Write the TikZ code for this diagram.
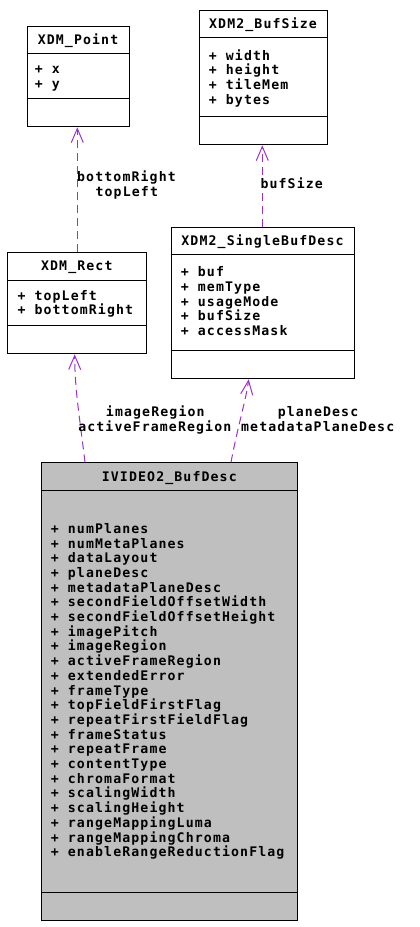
\documentclass[tikz,border=0pt]{standalone}
\usepackage{fontspec}
\newfontfamily\dxfont[LetterSpace=8.5]{DejaVu Sans Mono Bold}
\usetikzlibrary{arrows.meta}
\definecolor{edgepurple}{HTML}{9A32CD}
\definecolor{boxgray}{HTML}{BFBFBF}
\tikzset{
  classbox/.style={draw=black, line width=1pt, rectangle, inner sep=0pt, anchor=north west},
  sepline/.style={draw=black, line width=1pt},
  txt/.style={inner sep=0pt, anchor=base west, font=\dxfont\fontsize{13.2}{14.7}\selectfont},
  ttl/.style={inner sep=0pt, anchor=base, font=\dxfont\fontsize{13.2}{14.7}\selectfont},
  lbl/.style={inner sep=0pt, anchor=base, font=\dxfont\fontsize{13.2}{14.7}\selectfont},
  conn/.style={draw=edgepurple, line width=1pt, dash pattern=on 8pt off 5pt,
    -{Straight Barb[length=14pt, width=12pt, line width=1pt]}}
}
\begin{document}
\begin{tikzpicture}[x=1pt,y=-1pt]
\useasboundingbox[fill=white] (0,0) rectangle (420,927);

% XDM_Point
\node[classbox, fill=white, minimum width=102.6pt, minimum height=100.6pt] (point) at (26.7,25.7) {};
\draw[sepline] (point.west |- 0,53.3) -- (point.east |- 0,53.3);
\draw[sepline] (point.west |- 0,98.7) -- (point.east |- 0,98.7);
\node[ttl] (pointT) at (78,44.3) {XDM\_Point};
\node[txt] (pointM1) at (34.7,73.3) {+ x};
\node[txt] (pointM2) at (34.7,88) {+ y};

% XDM2_BufSize
\node[classbox, fill=white, minimum width=128.6pt, minimum height=134.6pt] (bufsize) at (198.7,9.7) {};
\draw[sepline] (bufsize.west |- 0,37.3) -- (bufsize.east |- 0,37.3);
\draw[sepline] (bufsize.west |- 0,116.7) -- (bufsize.east |- 0,116.7);
\node[ttl] (bufsizeT) at (263,28.3) {XDM2\_BufSize};
\foreach \t [count=\i from 0] in {width,height,tileMem,bytes}
  \node[txt] (bufsizeM\i) at (208.7,60+\i*14.7) {+ \t};

% XDM2_SingleBufDesc
\node[classbox, fill=white, minimum width=183.6pt, minimum height=151.6pt] (single) at (170.7,226.7) {};
\draw[sepline] (single.west |- 0,254.7) -- (single.east |- 0,254.7);
\draw[sepline] (single.west |- 0,350.3) -- (single.east |- 0,350.3);
\node[ttl] (singleT) at (262.5,245) {XDM2\_SingleBufDesc};
\foreach \t [count=\i from 0] in {buf,memType,usageMode,bufSize,accessMask}
  \node[txt] (singleM\i) at (180.7,276.7+\i*14.7) {+ \t};

% XDM_Rect
\node[classbox, fill=white, minimum width=139pt, minimum height=101pt] (rect) at (7.3,252.3) {};
\draw[sepline] (rect.west |- 0,280.7) -- (rect.east |- 0,280.7);
\draw[sepline] (rect.west |- 0,325.3) -- (rect.east |- 0,325.3);
\node[ttl] (rectT) at (76.8,270) {XDM\_Rect};
\node[txt] (rectM1) at (17.3,300) {+ topLeft};
\node[txt] (rectM2) at (17.3,314.7) {+ bottomRight};

% IVIDEO2_BufDesc
\node[classbox, fill=boxgray, minimum width=256pt, minimum height=457.7pt] (ivideo) at (41.3,462.3) {};
\draw[sepline] (ivideo.west |- 0,490) -- (ivideo.east |- 0,490);
\draw[sepline] (ivideo.west |- 0,892.7) -- (ivideo.east |- 0,892.7);
\node[ttl] (ivideoT) at (169.3,481) {IVIDEO2\_BufDesc};
\foreach \t [count=\i from 0] in {numPlanes,numMetaPlanes,dataLayout,planeDesc,metadataPlaneDesc,secondFieldOffsetWidth,secondFieldOffsetHeight,imagePitch,imageRegion,activeFrameRegion,extendedError,frameType,topFieldFirstFlag,repeatFirstFieldFlag,frameStatus,repeatFrame,contentType,chromaFormat,scalingWidth,scalingHeight,rangeMappingLuma,rangeMappingChroma,enableRangeReductionFlag}
  \node[txt] (ivideoM\i) at (50.7,533.3+\i*14.7) {+ \t};

% connectors
\draw[conn] (rect.north -| 77.3,0) -- (point.south -| 77.3,0);
\node[lbl] (lblBR) at (126.5,181.7) {bottomRight};
\node[lbl] (lblTL) at (126.8,196) {topLeft};

\draw[conn] (single.north -| 262.3,0) -- (bufsize.south -| 262.3,0);
\node[lbl] (lblBS) at (291.7,188.3) {bufSize};

\draw[conn] (ivideo.north -| 85,0) .. controls (80,420) and (74.7,390) .. (rect.south -| 74.7,0);
\node[lbl] (lblIR) at (155.3,416.7) {imageRegion};
\node[lbl] (lblAF) at (154.8,431.7) {activeFrameRegion};

\draw[conn] (ivideo.north -| 231,0) .. controls (238,425) and (246,400) .. (single.south -| 248.7,0);
\node[lbl] (lblPD) at (318,416.7) {planeDesc};
\node[lbl] (lblMP) at (317.7,431.7) {metadataPlaneDesc};
\end{tikzpicture}
\end{document}
